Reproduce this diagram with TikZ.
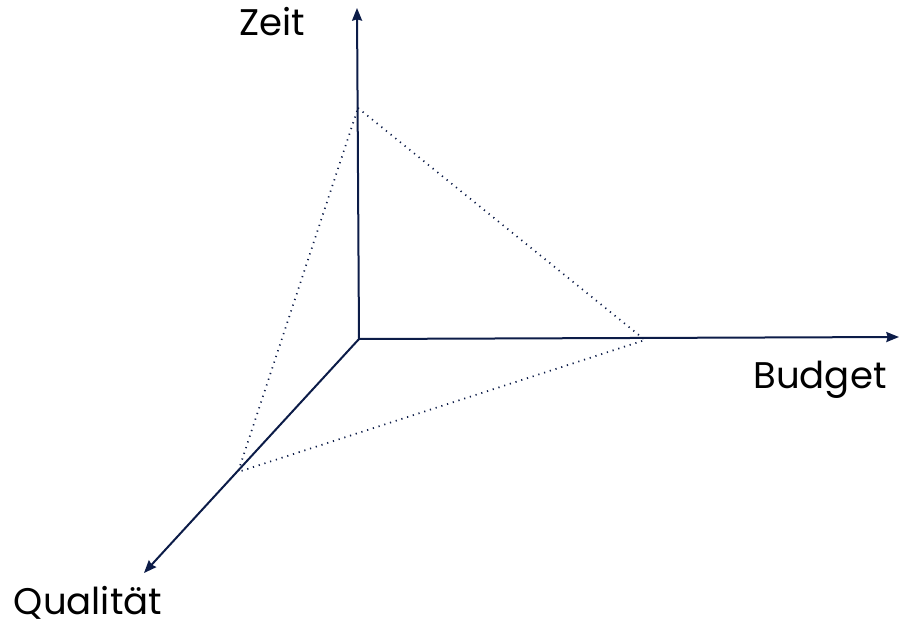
\documentclass[tikz,border=0pt]{standalone}
\usepackage{fontspec}
\setmainfont{Poppins}
\definecolor{axisnavy}{RGB}{12,28,72}
\usetikzlibrary{arrows.meta}

\begin{document}
\begin{tikzpicture}[x=0.75pt,y=-0.75pt,
    axis/.style={-{Stealth[length=9.5pt,width=7.5pt,inset=1pt]}, line width=1.5pt, axisnavy},
    tri/.style={axisnavy, line width=1.3pt, dash pattern=on 0.9pt off 3.6pt},
    lbl/.style={font=\fontsize{27.8}{32}\selectfont, text=black}
  ]
    \useasboundingbox (0,0) rectangle (907,628);

    % Axes
    \coordinate (o)   at (359,339);
    \coordinate (zt)  at (357,8);
    \coordinate (bt)  at (899,337);
    \coordinate (qt)  at (144,573);

    \draw[axis] (o) -- (zt);
    \draw[axis] (o) -- (bt);
    \draw[axis] (o) -- (qt);

    % Triangle corners
    \coordinate (pz) at (358,108);
    \coordinate (pb) at (645,340);
    \coordinate (pq) at (238,472);

    \draw[tri] (pz) -- (pb) -- (pq) -- cycle;

    % Labels
    \node[lbl] (zeit)    at (272,22)  {Zeit};
    \node[lbl] (budget)  at (820,380) {Budget};
    \node[lbl] (qual)    at (88,603)  {Qualität};
\end{tikzpicture}
\end{document}
